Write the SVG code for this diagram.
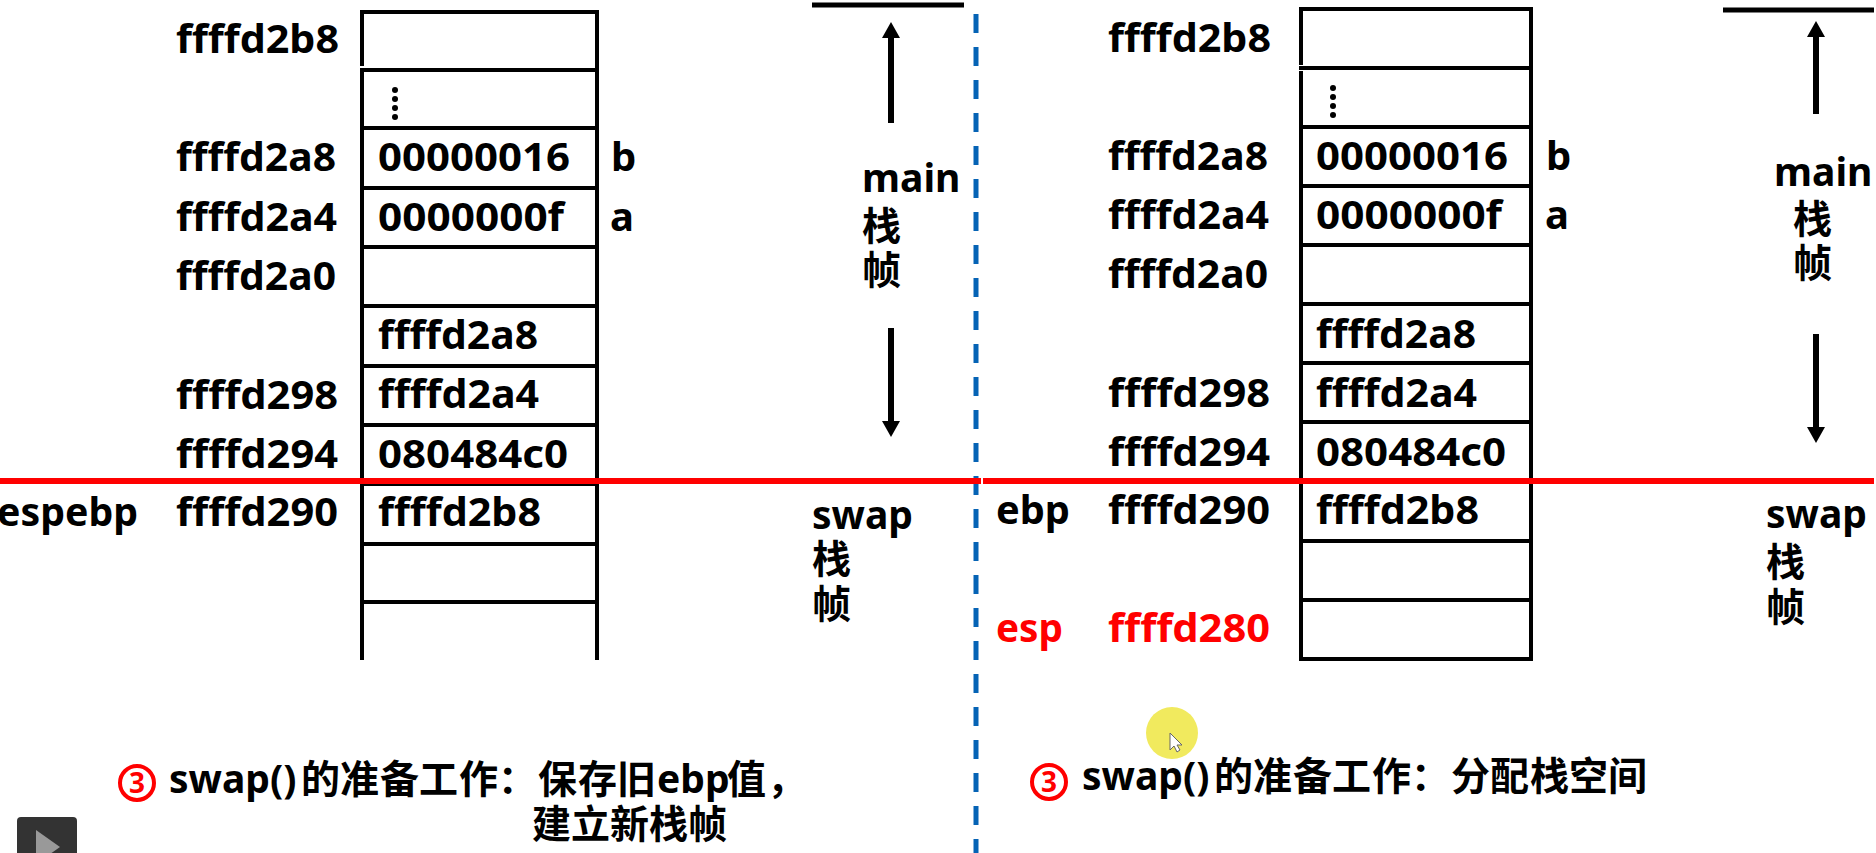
<svg xmlns="http://www.w3.org/2000/svg" width="1876" height="853" viewBox="0 0 1876 853">
  <style>
    text { font-family: "Noto Sans", "Noto Sans CJK SC", sans-serif; font-weight: 700; fill: #000; }
    .t { font-size: 40px; }
    .l { font-size: 39px; }
    .cap { font-size: 39px; }
    .red { fill: #f00; }
    .wall { stroke: #000; stroke-width: 4; fill: none; }
    .arrow { stroke: #000; stroke-width: 6; fill: none; }
    .bar { stroke: #000; stroke-width: 5; }
    .num { fill: none; stroke: #f00; stroke-width: 4; }
  </style>
  <rect width="1876" height="853" fill="#fff"/>

  <!-- stack before esp moves -->
  <g id="stack-left">
    <path class="wall" d="M362 660V71M362 66V12M597 660V12M360 12H599M360 70H599M360 128H599M360 188H599M360 247H599M360 306H599M360 366H599M360 425H599M360 484H599M360 544H599M360 602H599"/>
    <g fill="#000"><circle cx="395" cy="90" r="3"/><circle cx="395" cy="99" r="3"/><circle cx="395" cy="108" r="3"/><circle cx="395" cy="117" r="3"/></g>
    <text class="t" x="176" y="53" textLength="163" lengthAdjust="spacingAndGlyphs">ffffd2b8</text>
    <text class="t" x="176" y="171" textLength="160" lengthAdjust="spacingAndGlyphs">ffffd2a8</text>
    <text class="t" x="176" y="231" textLength="161" lengthAdjust="spacingAndGlyphs">ffffd2a4</text>
    <text class="t" x="176" y="290" textLength="160" lengthAdjust="spacingAndGlyphs">ffffd2a0</text>
    <text class="t" x="176" y="409" textLength="162" lengthAdjust="spacingAndGlyphs">ffffd298</text>
    <text class="t" x="176" y="468" textLength="162" lengthAdjust="spacingAndGlyphs">ffffd294</text>
    <text class="t" x="176" y="526" textLength="162" lengthAdjust="spacingAndGlyphs">ffffd290</text>
    <text class="t" x="378" y="171" textLength="192" lengthAdjust="spacingAndGlyphs">00000016</text>
    <text class="t" x="378" y="231" textLength="186" lengthAdjust="spacingAndGlyphs">0000000f</text>
    <text class="t" x="378" y="349" textLength="160" lengthAdjust="spacingAndGlyphs">ffffd2a8</text>
    <text class="t" x="378" y="408" textLength="161" lengthAdjust="spacingAndGlyphs">ffffd2a4</text>
    <text class="t" x="378" y="468" textLength="190" lengthAdjust="spacingAndGlyphs">080484c0</text>
    <text class="t" x="378" y="526" textLength="163" lengthAdjust="spacingAndGlyphs">ffffd2b8</text>
    <text class="t" x="611" y="171">b</text>
    <text class="t" x="610" y="231">a</text>
    <text class="t" x="-3" y="526" textLength="141" lengthAdjust="spacingAndGlyphs">espebp</text>
  </g>

  <!-- stack after esp moves -->
  <g id="stack-right">
    <path class="wall" d="M1301 659V71M1301 65V9M1531 659V9M1299 9H1533M1299 68H1533M1299 127H1533M1299 186H1533M1299 245H1533M1299 304H1533M1299 363H1533M1299 422H1533M1299 481H1533M1299 541H1533M1299 600H1533M1299 659H1533"/>
    <g fill="#000"><circle cx="1333" cy="88" r="3"/><circle cx="1333" cy="97" r="3"/><circle cx="1333" cy="106" r="3"/><circle cx="1333" cy="115" r="3"/></g>
    <text class="t" x="1108" y="52" textLength="163" lengthAdjust="spacingAndGlyphs">ffffd2b8</text>
    <text class="t" x="1108" y="170" textLength="160" lengthAdjust="spacingAndGlyphs">ffffd2a8</text>
    <text class="t" x="1108" y="229" textLength="161" lengthAdjust="spacingAndGlyphs">ffffd2a4</text>
    <text class="t" x="1108" y="288" textLength="160" lengthAdjust="spacingAndGlyphs">ffffd2a0</text>
    <text class="t" x="1108" y="407" textLength="162" lengthAdjust="spacingAndGlyphs">ffffd298</text>
    <text class="t" x="1108" y="466" textLength="162" lengthAdjust="spacingAndGlyphs">ffffd294</text>
    <text class="t" x="1108" y="524" textLength="162" lengthAdjust="spacingAndGlyphs">ffffd290</text>
    <text class="t red" x="1108" y="642" textLength="162" lengthAdjust="spacingAndGlyphs">ffffd280</text>
    <text class="t" x="1316" y="170" textLength="192" lengthAdjust="spacingAndGlyphs">00000016</text>
    <text class="t" x="1316" y="229" textLength="186" lengthAdjust="spacingAndGlyphs">0000000f</text>
    <text class="t" x="1316" y="348" textLength="160" lengthAdjust="spacingAndGlyphs">ffffd2a8</text>
    <text class="t" x="1316" y="407" textLength="161" lengthAdjust="spacingAndGlyphs">ffffd2a4</text>
    <text class="t" x="1316" y="466" textLength="190" lengthAdjust="spacingAndGlyphs">080484c0</text>
    <text class="t" x="1316" y="524" textLength="163" lengthAdjust="spacingAndGlyphs">ffffd2b8</text>
    <text class="t" x="1546" y="170">b</text>
    <text class="t" x="1545" y="229">a</text>
    <text class="t" x="996" y="524" textLength="74" lengthAdjust="spacingAndGlyphs">ebp</text>
    <text class="t red" x="996" y="642" textLength="67" lengthAdjust="spacingAndGlyphs">esp</text>
  </g>

  <!-- frame extents and dividers -->
  <g id="connectors">
    <line class="bar" x1="812" y1="5" x2="964" y2="5"/>
    <line class="bar" x1="1723" y1="10" x2="1874" y2="10"/>
    <line class="arrow" x1="891" y1="123" x2="891" y2="36"/>
    <polygon points="891,22 882,38 900,38" fill="#000"/>
    <line class="arrow" x1="891" y1="328" x2="891" y2="424"/>
    <polygon points="891,437 882,421 900,421" fill="#000"/>
    <line class="arrow" x1="1816" y1="114" x2="1816" y2="35"/>
    <polygon points="1816,21 1807,37 1825,37" fill="#000"/>
    <line class="arrow" x1="1816" y1="334" x2="1816" y2="429"/>
    <polygon points="1816,443 1807,427 1825,427" fill="#000"/>
    <line x1="976" y1="-19" x2="976" y2="853" stroke="#0563b5" stroke-width="5" stroke-dasharray="19 14"/>
    <line x1="0" y1="481" x2="981" y2="481" stroke="#f00" stroke-width="6"/>
    <line x1="983" y1="481" x2="1874" y2="481" stroke="#f00" stroke-width="6"/>
  </g>

  <g id="frame-labels">
    <text class="l" x="862" y="192">main</text>
    <text class="l" x="862" y="240">栈</text>
    <text class="l" x="862" y="284">帧</text>
    <text class="l" x="812" y="529">swap</text>
    <text class="l" x="812" y="573">栈</text>
    <text class="l" x="812" y="618">帧</text>
    <text class="l" x="1774" y="186">main</text>
    <text class="l" x="1793" y="233">栈</text>
    <text class="l" x="1793" y="277">帧</text>
    <text class="l" x="1766" y="528">swap</text>
    <text class="l" x="1766" y="576">栈</text>
    <text class="l" x="1766" y="621">帧</text>
  </g>

  <g id="caption-left">
    <circle class="num" cx="137" cy="783" r="17"/>
    <text class="red" x="137" y="793" font-size="28" text-anchor="middle">3</text>
    <text class="cap" y="793"><tspan x="169">swap()</tspan><tspan x="301">的</tspan><tspan x="340">准</tspan><tspan x="380">备</tspan><tspan x="419">工</tspan><tspan x="459">作</tspan><tspan x="498">：</tspan><tspan x="538">保</tspan><tspan x="578">存</tspan><tspan x="617">旧</tspan><tspan x="657">ebp</tspan><tspan x="727">值</tspan><tspan x="767">，</tspan></text>
    <text class="cap" x="532" y="838">建立新栈帧</text>
  </g>

  <g id="caption-right">
    <circle class="num" cx="1049" cy="782" r="17"/>
    <text class="red" x="1049" y="792" font-size="28" text-anchor="middle">3</text>
    <text class="cap" y="790"><tspan x="1082">swap()</tspan><tspan x="1214">的</tspan><tspan x="1253">准</tspan><tspan x="1293">备</tspan><tspan x="1332">工</tspan><tspan x="1372">作</tspan><tspan x="1411">：</tspan><tspan x="1451">分</tspan><tspan x="1490">配</tspan><tspan x="1530">栈</tspan><tspan x="1569">空</tspan><tspan x="1608">间</tspan></text>
  </g>

  <!-- pointer highlight -->
  <g id="pointer">
    <ellipse cx="1172" cy="733" rx="26" ry="26" fill="#f1ea5e"/>
    <path d="M1170 733V750L1174 746L1177 752L1180 750L1177 745H1182Z" fill="#fff" stroke="#666" stroke-width="1"/>
  </g>

  <!-- player control -->
  <g id="play-button">
    <rect x="17" y="817" width="60" height="50" rx="4" fill="#333"/>
    <polygon points="36,830 60,847 36,864" fill="#999"/>
  </g>
</svg>
